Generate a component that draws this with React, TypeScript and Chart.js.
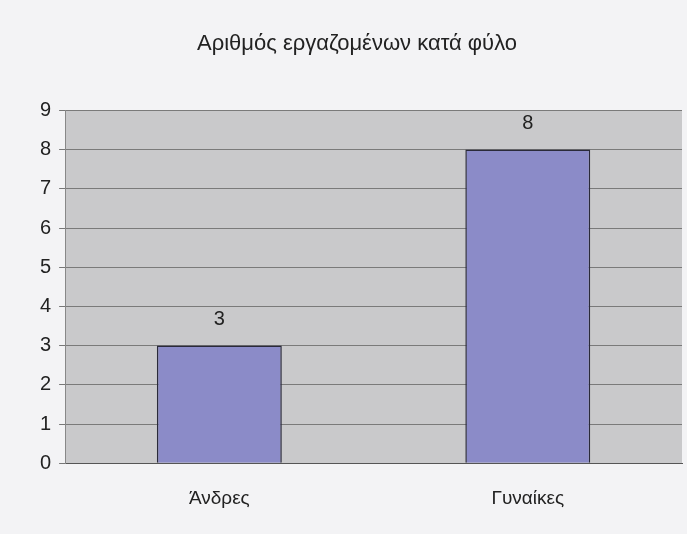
import React, { useEffect, useRef } from "react";
import { Chart, registerables } from "chart.js";

Chart.register(...registerables);

const categories = ["Άνδρες", "Γυναίκες"];
const values = [3, 8];
const chartTitle = "Αριθμός εργαζομένων κατά φύλο";
const yMin = 0;
const yMax = 9;

const FONT = "'Liberation Sans', Arial, sans-serif";

const plotBg = {
  id: "plotBg",
  beforeDraw(chart: any) {
    const { ctx, chartArea } = chart;
    ctx.save();
    ctx.fillStyle = "#c9c9cb";
    ctx.fillRect(chartArea.left, chartArea.top, chartArea.right - chartArea.left, chartArea.bottom - chartArea.top);
    ctx.restore();
  },
};

const valueLabels = {
  id: "valueLabels",
  afterDatasetsDraw(chart: any) {
    const { ctx } = chart;
    const meta = chart.getDatasetMeta(0);
    ctx.save();
    ctx.fillStyle = "#222";
    ctx.font = `20px ${FONT}`;
    ctx.textAlign = "center";
    ctx.textBaseline = "middle";
    meta.data.forEach((bar: any, i: number) => {
      ctx.fillText(String(chart.data.datasets[0].data[i]), bar.x, bar.y - 26);
    });
    ctx.restore();
  },
};

export default function App() {
  const ref = useRef<HTMLCanvasElement>(null);
  useEffect(() => {
    document.body.style.margin = "0";
    document.body.style.background = "#f3f3f5";
    const chart = new Chart(ref.current!, {
      type: "bar",
      data: {
        labels: categories,
        datasets: [
          {
            data: values,
            backgroundColor: "#8b8bc8",
            borderColor: "#2a2a3a",
            borderWidth: 1.5,
            categoryPercentage: 1,
            barPercentage: 0.405,
          },
        ],
      },
      options: {
        animation: false,
        responsive: false,
        layout: { padding: { top: 31, right: 5, left: 32, bottom: 0 } },
        plugins: {
          legend: { display: false },
          tooltip: { enabled: false },
          title: {
            display: true,
            text: chartTitle,
            color: "#222",
            font: { family: FONT, size: 22, weight: "normal" },
            padding: { top: 0, bottom: 53 },
          },
        },
        scales: {
          x: {
            grid: { display: false, drawTicks: false },
            border: { display: true, color: "#555" },
            ticks: { color: "#222", font: { family: FONT, size: 19 }, padding: 24 },
          },
          y: {
            min: yMin,
            max: yMax,
            ticks: { stepSize: 1, color: "#222", font: { family: FONT, size: 20 }, padding: 8 },
            grid: { color: "#7a7a7a", lineWidth: 1, tickLength: 6, tickColor: "#777" },
            border: { display: true, color: "#888" },
          },
        },
      },
      plugins: [plotBg, valueLabels],
    });
    return () => chart.destroy();
  }, []);
  return (
    <div style={{ position: "absolute", left: 0, top: 0, width: 687, height: 534 }}>
      <canvas ref={ref} width={687} height={534} />
    </div>
  );
}
